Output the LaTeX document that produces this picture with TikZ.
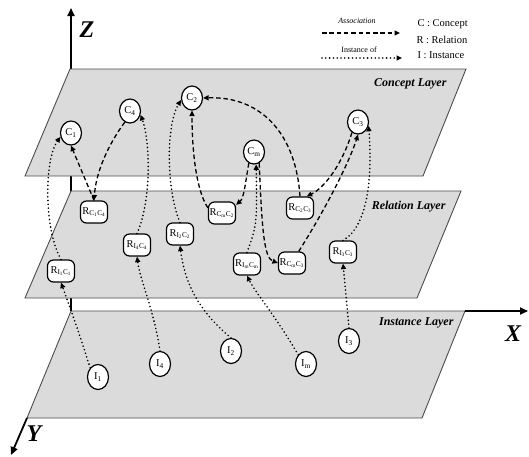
\documentclass[tikz,border=0pt]{standalone}
\usepackage{fontspec}
\setmainfont{Liberation Serif}
\usetikzlibrary{arrows.meta,shapes.geometric}
\newcommand{\mysub}[1]{\textsubscript{#1}}
\begin{document}
\begin{tikzpicture}[x=1pt,y=-1pt,
  plane/.style={fill=gray!28, draw=black!70, line width=0.9pt},
  concept/.style={ellipse, draw, line width=1.2pt, fill=white, minimum width=21pt, minimum height=24pt, inner sep=0pt, font=\fontsize{10.5}{10.5}\selectfont},
  inst/.style={concept, minimum height=25pt},
  rel/.style={rectangle, rounded corners=6pt, draw, line width=1.2pt, fill=white, minimum width=27pt, minimum height=22pt, inner sep=0pt, font=\fontsize{10.5}{10.5}\selectfont},
  assoc/.style={line width=1.3pt, dash pattern=on 4.5pt off 2.8pt, -{Triangle[length=5.5pt,width=5pt]}},
  instof/.style={line width=1.8pt, line cap=round, dash pattern=on 0pt off 3.8pt, -{Triangle[length=5.5pt,width=5pt]}},
  axis/.style={line width=1.8pt, -{Triangle[length=8pt,width=7pt]}},
  axlabel/.style={font=\fontsize{24}{24}\selectfont\bfseries\itshape},
  layerlabel/.style={font=\fontsize{12}{12}\selectfont\bfseries\itshape, anchor=east},
  legtext/.style={font=\fontsize{8}{8}\selectfont},
  keytext/.style={anchor=west, font=\fontsize{10.5}{12}\selectfont},
]
\useasboundingbox (0,0) rectangle (529,456);

% axes
\coordinate (zbase) at (71,311);
\coordinate (ztop) at (71,8);
\draw[axis] (zbase) -- (ztop);

% planes
\draw[plane] (70,69) -- (466,69) -- (423,176) -- (25,176) -- cycle;
\draw[plane] (71,191) -- (461,191) -- (417,298) -- (25,298) -- cycle;
\draw[plane] (71,311) -- (465,311) -- (422,418) -- (27,418) -- cycle;

\coordinate (xbase) at (465,311);
\coordinate (xtip) at (528,311);
\draw[axis] (xbase) -- (xtip);
\coordinate (ybase) at (27,418);
\coordinate (ytip) at (11,455);
\draw[axis] (ybase) -- (ytip);

\node[axlabel] (zl) at (87,30) {Z};
\node[axlabel] (xl) at (513,334) {X};
\node[axlabel] (yl) at (34,434) {Y};

% legend
\node[legtext, font=\fontsize{8}{8}\selectfont\itshape] (lass) at (357,21) {Association};
\coordinate (la1) at (322,33);
\coordinate (la2) at (400,33);
\draw[assoc] (la1) -- (la2);
\node[legtext] (lins) at (359,50) {Instance of};
\coordinate (li1) at (322,58);
\coordinate (li2) at (402,58);
\draw[instof] (li1) -- (li2);
\node[keytext] (k1) at (414,24) {C : Concept};
\node[keytext] (k2) at (413,40) {R : Relation};
\node[keytext] (k3) at (414,55) {I : Instance};

% layer labels
\node[layerlabel] (lc) at (450,84) {Concept Layer};
\node[layerlabel] (lr) at (449,207) {Relation Layer};
\node[layerlabel] (lI) at (457,323) {Instance Layer};

% concept nodes
\node[concept] (C1) at (71,133) {C\mysub{1}};
\node[concept] (C4) at (130,111) {C\mysub{4}};
\node[concept] (C2) at (192,98) {C\mysub{2}};
\node[concept] (Cm) at (254,152) {C\mysub{m}};
\node[concept] (C3) at (358,122) {C\mysub{3}};

% relation nodes
\node[rel] (R14) at (94,212) {R\mysub{C\mysub{1}C\mysub{4}}};
\node[rel] (R44) at (137,245) {R\mysub{I\mysub{4}C\mysub{4}}};
\node[rel] (R22) at (180,234) {R\mysub{I\mysub{2}C\mysub{2}}};
\node[rel] (R11) at (61,271) {R\mysub{I\mysub{1}C\mysub{1}}};
\node[rel] (Rm2) at (222,213) {R\mysub{C\mysub{m}C\mysub{2}}};
\node[rel] (R23) at (300,208) {R\mysub{C\mysub{2}C\mysub{3}}};
\node[rel] (Rmm) at (247,264) {R\mysub{I\mysub{m}C\mysub{m}}};
\node[rel] (Rm3) at (292,263) {R\mysub{C\mysub{m}C\mysub{3}}};
\node[rel] (R33) at (343,252) {R\mysub{I\mysub{3}C\mysub{3}}};

% instance nodes
\node[inst] (I1) at (98,377) {I\mysub{1}};
\node[inst] (I4) at (160,364) {I\mysub{4}};
\node[inst] (I2) at (231,351) {I\mysub{2}};
\node[inst] (Im) at (306,364) {I\mysub{m}};
\node[inst] (I3) at (349,341) {I\mysub{3}};

% association edges
\draw[assoc] (R14.north) -- (C1.south);
\draw[assoc] (C4.-115) .. controls (108,145) and (96,172) .. (R14.north);
\draw[assoc] (Rm2.160) .. controls (196,190) and (192,150) .. (C2.south);
\draw[assoc] (Cm.-115) .. controls (245,185) and (244,198) .. (Rm2.30);
\draw[assoc] (R23.north) .. controls (296,135) and (262,96) .. (C2.east);
\draw[assoc] (C3.-120) .. controls (342,165) and (324,188) .. (R23.60);
\draw[assoc] (Cm.-65) .. controls (262,230) and (264,258) .. (Rm3.west);
\draw[assoc] (Rm3.60) .. controls (328,205) and (350,160) .. (C3.south);

% instance-of edges
\draw[instof] (I1.north west) .. controls (78,330) .. (R11.south);
\draw[instof] (R11.north) .. controls (44,230) and (44,160) .. (C1.200);
\draw[instof] (I4.north) .. controls (154,310) and (140,280) .. (R44.south);
\draw[instof] (R44.north) .. controls (152,200) and (150,140) .. (C4.-20);
\draw[instof] (I2.north) .. controls (200,312) and (185,285) .. (R22.south);
\draw[instof] (R22.north) .. controls (166,190) and (166,125) .. (C2.190);
\draw[instof] (Im.north west) .. controls (275,315) and (255,292) .. (Rmm.south);
\draw[instof] (Rmm.north) .. controls (257,225) .. (Cm.-80);
\draw[instof] (I3.north) -- (R33.south);
\draw[instof] (R33.north) .. controls (370,225) and (372,170) .. (C3.-20);
\end{tikzpicture}
\end{document}
